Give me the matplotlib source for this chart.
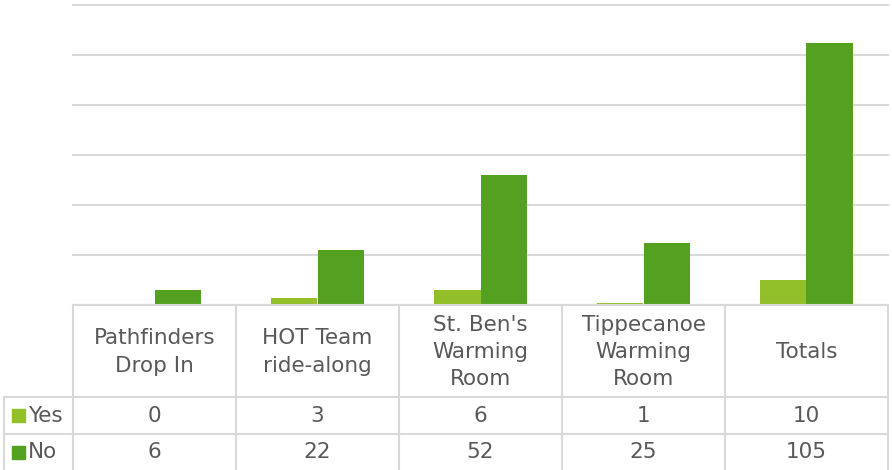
"""Shelter survey column chart with Excel-style data table underneath."""

import matplotlib
matplotlib.use("Agg")
import matplotlib.pyplot as plt
from matplotlib.patches import Rectangle
import numpy as np

CATEGORIES = ["Pathfinders\nDrop In", "HOT Team\nride-along", "St. Ben's\nWarming\nRoom",
              "Tippecanoe\nWarming\nRoom", "Totals"]
SERIES = ["Yes", "No"]
YES = [0, 3, 6, 1, 10]
NO = [6, 22, 52, 25, 105]
COLORS = ["#92C02A", "#54A021"]

GRID = "#D9D9D9"
TEXT = "#595959"
W, H = 892, 470

plt.rcParams["font.family"] = ["DejaVu Sans"]

fig = plt.figure(figsize=(W / 100, H / 100), dpi=100)

left, right, top, axis_y = 73, 888, 5, 305
ax = fig.add_axes([left / W, (H - axis_y) / H, (right - left) / W, (axis_y - top) / H])
x = np.arange(len(CATEGORIES))
bw = 0.283
ax.bar(x - bw / 2, YES, bw, color=COLORS[0], zorder=3)
ax.bar(x + bw / 2, NO, bw, color=COLORS[1], zorder=3)
ax.set_xlim(-0.5, len(CATEGORIES) - 0.5)
ax.set_ylim(0, 120)
ax.set_yticks(np.arange(0, 121, 20))
ax.yaxis.grid(True, color=GRID, linewidth=1.5, zorder=0, clip_on=False)
ax.tick_params(left=False, bottom=False, labelleft=False, labelbottom=False)
for s in ax.spines.values():
    s.set_visible(False)

# data table, y measured in pixels down from the axis line
tab_h = H - axis_y
tab = fig.add_axes([left / W, 0, (right - left) / W, tab_h / H], sharex=ax)
tab.set_ylim(tab_h, 0)
tab.axis("off")
px = 1.0 / ((right - left) / len(CATEGORIES))   # one pixel in category units
x0 = -0.5 - (left - 4) * px                      # left edge of the row-header column
xr = len(CATEGORIES) - 0.5
rows = [92, 129, tab_h]

lk = dict(color=GRID, linewidth=1.5, clip_on=False)
tab.plot([-0.5, xr], [0, 0], **lk)
for yy in rows[:2]:
    tab.plot([x0, xr], [yy, yy], **lk)
for i in range(len(CATEGORIES) + 1):
    tab.plot([i - 0.5, i - 0.5], [0, tab_h], **lk)
tab.plot([x0, x0], [rows[0], tab_h], **lk)

fs = 15.5
for i, c in enumerate(CATEGORIES):
    tab.text(i, rows[0] / 2 + 1, c, ha="center", va="center", fontsize=fs, color=TEXT,
             linespacing=1.45)
    tab.text(i, (rows[0] + rows[1]) / 2, str(YES[i]), ha="center", va="center",
             fontsize=fs, color=TEXT)
    tab.text(i, (rows[1] + rows[2]) / 2, str(NO[i]), ha="center", va="center",
             fontsize=fs, color=TEXT)

for k, name in enumerate(SERIES):
    yc = (rows[k] + rows[k + 1]) / 2
    tab.add_patch(Rectangle((x0 + 8 * px, yc - 6.5), 13 * px, 13, color=COLORS[k],
                            clip_on=False))
    tab.text(x0 + 24 * px, yc, name, ha="left", va="center", fontsize=fs, color=TEXT)

fig.savefig("out.png", dpi=100)
